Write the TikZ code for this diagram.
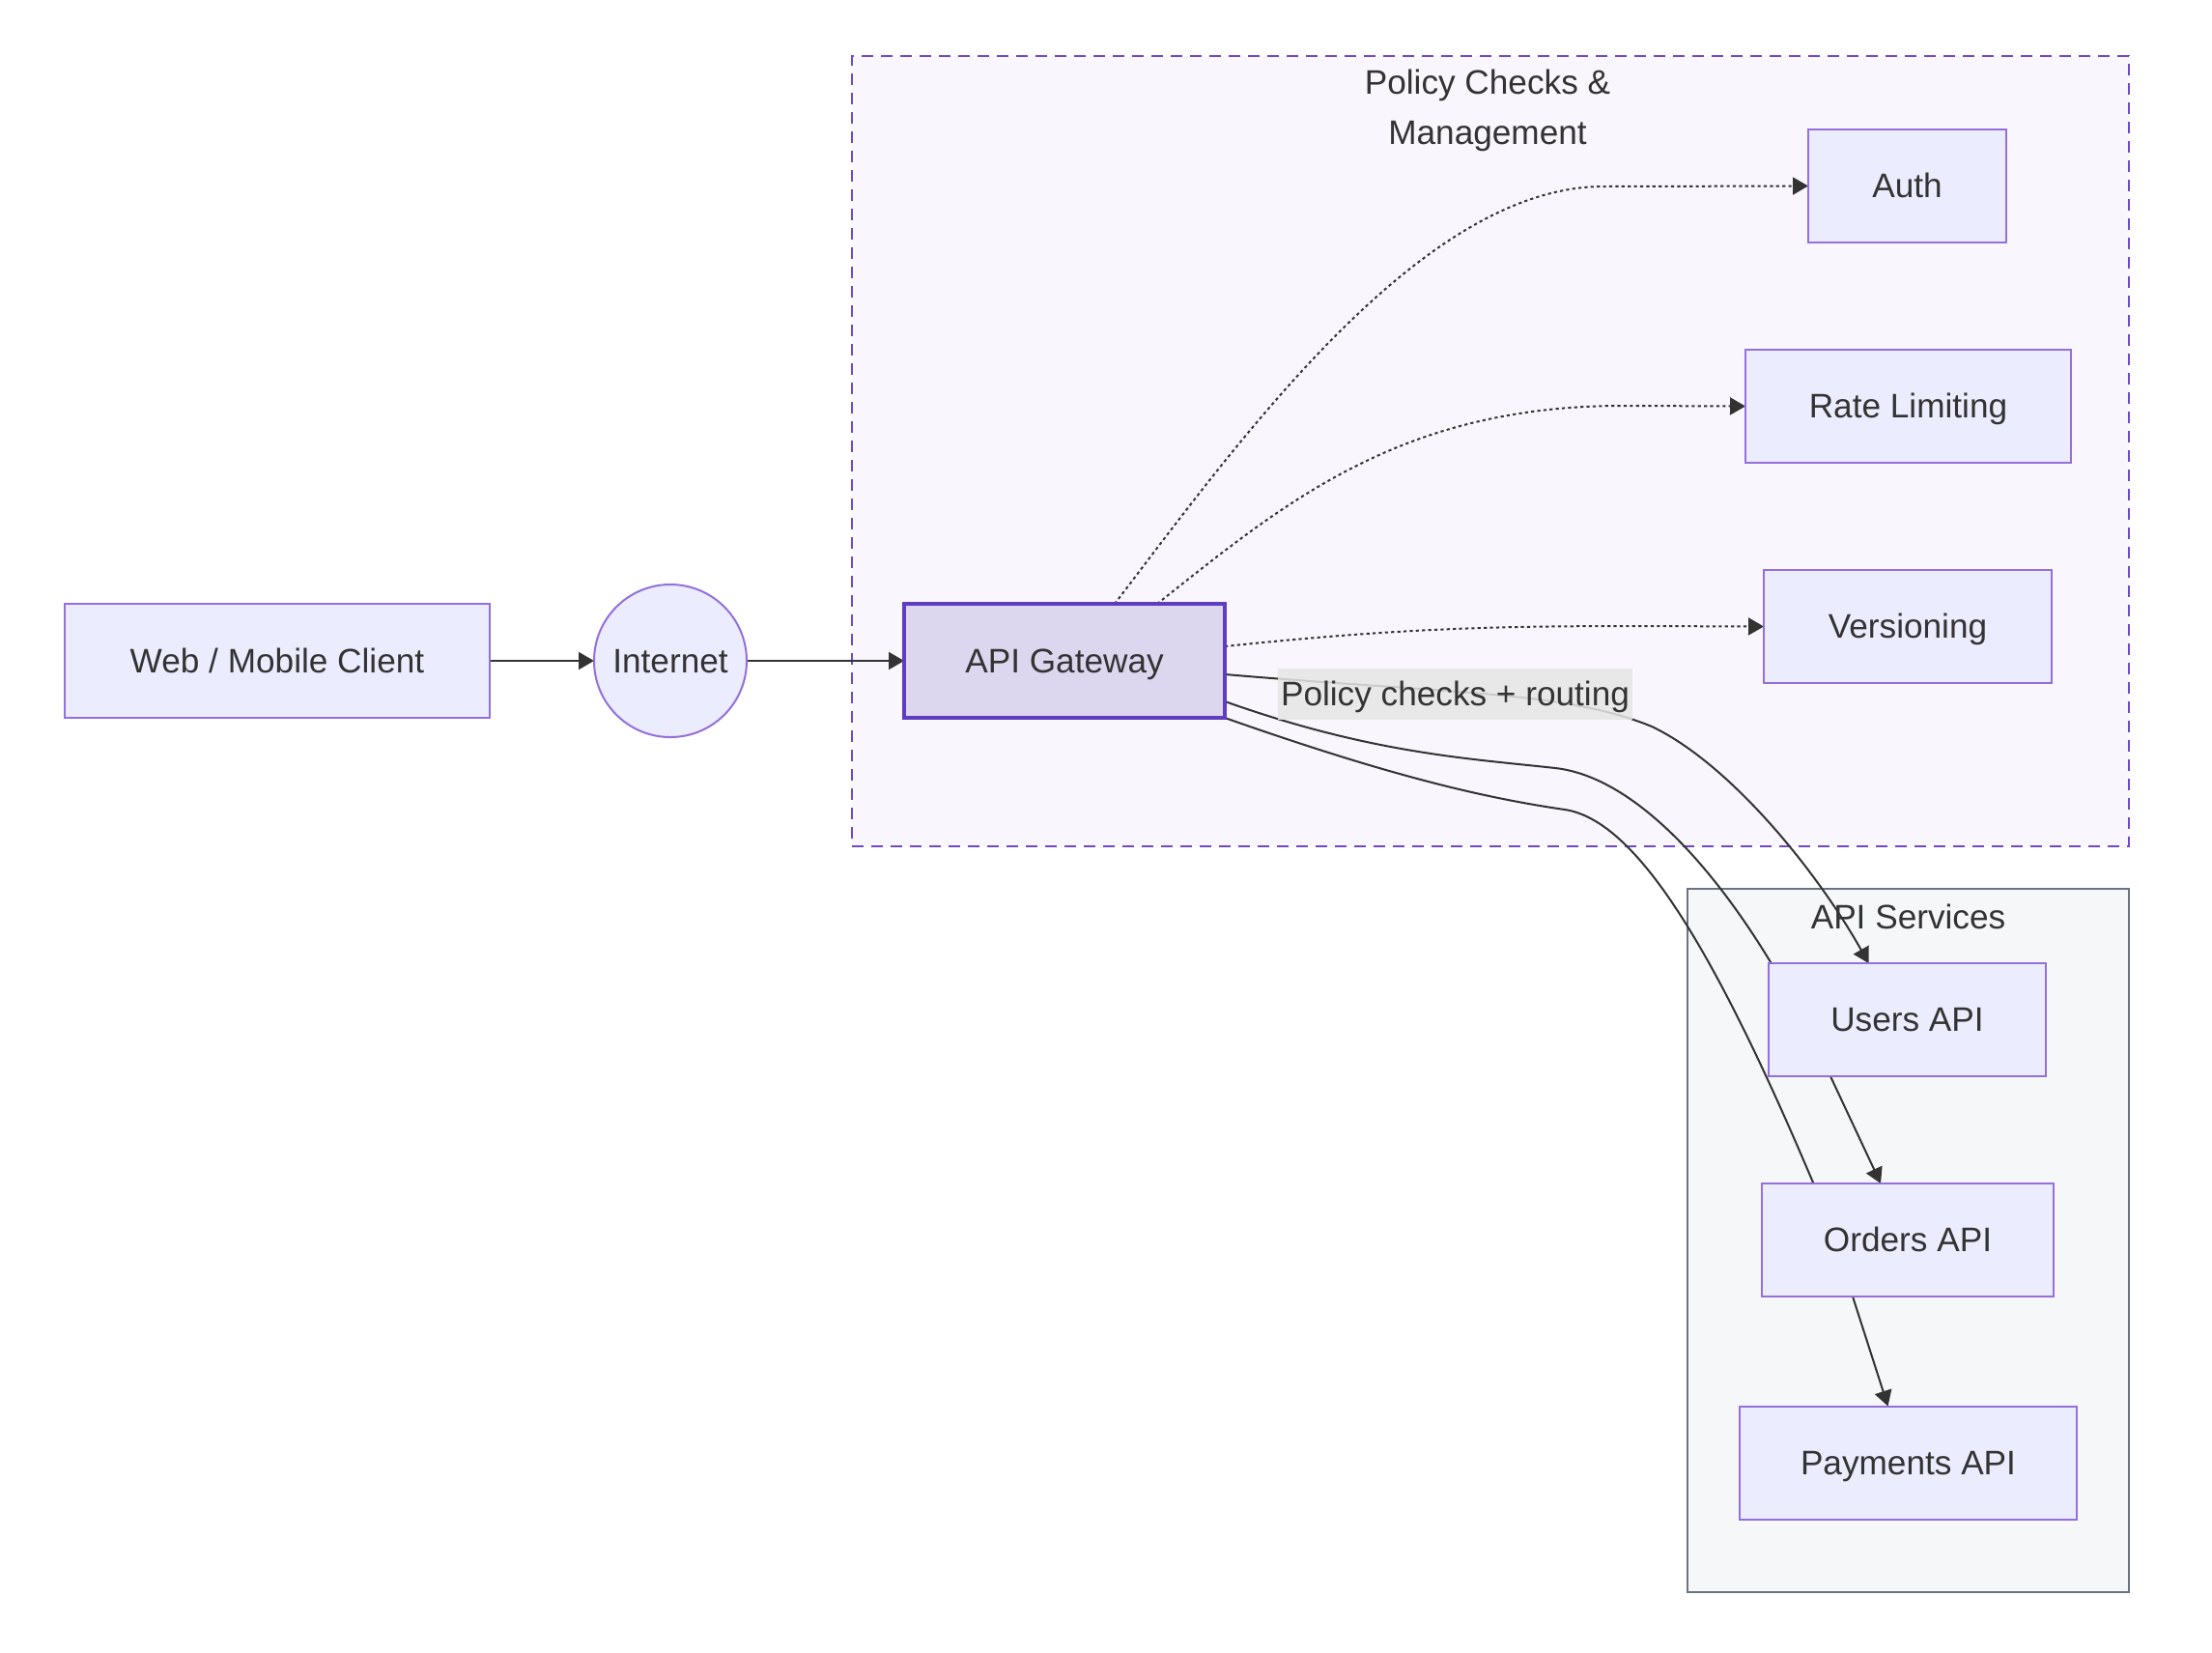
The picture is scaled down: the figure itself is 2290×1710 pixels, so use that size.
\documentclass[tikz,border=0pt]{standalone}
\usepackage{fontspec}
\setmainfont{Liberation Sans}
\usetikzlibrary{arrows.meta,calc}
\pgfdeclarelayer{bg}
\pgfdeclarelayer{edges}
\pgfsetlayers{bg,edges,main}
\definecolor{nodefill}{HTML}{ECECFF}
\definecolor{nodeline}{HTML}{9370DB}
\definecolor{gwfill}{HTML}{DDD6EF}
\definecolor{gwline}{HTML}{5E3DBF}
\definecolor{polfill}{HTML}{FAF6FD}
\definecolor{polline}{HTML}{7049C9}
\definecolor{svcfill}{HTML}{F6F7F9}
\definecolor{svcline}{HTML}{6B7280}
\definecolor{edgecol}{HTML}{333333}
\definecolor{lblfill}{HTML}{E6E6E6}
\definecolor{txt}{HTML}{333333}
\tikzset{
  x=0.5pt, y=-0.5pt,
  every node/.style={font=\fontsize{17.6}{26}\selectfont, text=txt},
  shapetext/.style={text height=15.9pt, text depth=3.7pt},
  box/.style={shapetext, draw=nodeline, fill=nodefill, line width=1pt, rectangle, inner sep=0pt, outer sep=0pt, minimum height=59pt},
  gwbox/.style={shapetext, draw=gwline, fill=gwfill, line width=2pt, rectangle, inner sep=0pt, outer sep=0pt, minimum height=59pt},
  roundnode/.style={shapetext, draw=nodeline, fill=nodefill, line width=1pt, circle, inner sep=0pt, outer sep=0pt, minimum size=79pt},
  polcluster/.style={draw=polline, fill=polfill, line width=1pt, dash pattern=on 6pt off 4pt, rectangle, inner sep=0pt, outer sep=0pt},
  svccluster/.style={draw=svcline, fill=svcfill, line width=1pt, rectangle, inner sep=0pt, outer sep=0pt},
  link/.style={draw=edgecol, line width=1pt, -{Triangle[length=8pt,width=9pt]}},
  dotlink/.style={link, dash pattern=on 1.6pt off 1.6pt},
  lbl/.style={shapetext, fill=lblfill, fill opacity=0.85, text opacity=1, inner sep=0pt, minimum width=183.5pt, minimum height=26.5pt}
}
\begin{document}
\begin{tikzpicture}
\useasboundingbox (0,0) rectangle (2290,1710);

\begin{pgfonlayer}{bg}
\fill[white] (0,0) rectangle (2290,1710);
\node[polcluster, minimum width=661pt, minimum height=409pt] (policy) at (1543,467) {};
\node[svccluster, minimum width=228.5pt, minimum height=364pt] (services) at (1975.5,1284) {};
\end{pgfonlayer}
\node[align=center, inner sep=0pt] (poltitle) at (1540,114) {Policy Checks \&\\Management};
\node[inner sep=0pt] (svctitle) at (1975.5,949) {API Services};

\node[box, minimum width=220pt] (client) at (287,684) {Web / Mobile Client};
\node[roundnode] (internet) at (694,684) {Internet};
\node[gwbox, minimum width=166pt] (gw) at (1102,684) {API Gateway};
\node[box, minimum width=102.5pt, minimum height=58.5pt] (auth) at (1974.5,192.5) {Auth};
\node[box, minimum width=168.5pt, minimum height=58.5pt] (rate) at (1975.5,420.5) {Rate Limiting};
\node[box, minimum width=149pt, minimum height=58.5pt] (vers) at (1975,648.5) {Versioning};
\node[box, minimum width=143.5pt, minimum height=58.5pt] (users) at (1974.5,1055.5) {Users API};
\node[box, minimum width=151pt, minimum height=58.5pt] (orders) at (1975,1283.5) {Orders API};
\node[box, minimum width=174.5pt, minimum height=58.5pt] (payments) at (1975.5,1514) {Payments API};

\begin{pgfonlayer}{edges}
\draw[link] (client.east) -- (internet.west);
\draw[link] (internet.east) -- (gw.west);
\draw[dotlink] ($(gw.north)+(52,0)$) .. controls (1280,460) and (1470,193) .. (1660,193) -- (auth.west);
\draw[dotlink] ($(gw.north)+(96,0)$) .. controls (1330,520) and (1450,420) .. (1680,420) -- (rate.west);
\draw[dotlink] ($(gw.east)+(0,-15)$) .. controls (1450,650) and (1550,648) .. (1700,648) -- (vers.west);
\draw[link] ($(gw.east)+(0,14)$) .. controls (1500,718) and (1620,715) .. (1710,752) .. controls (1790,790) and (1880,900) .. ($(users.north)+(-40,0)$);
\draw[link] ($(gw.east)+(0,42)$) .. controls (1420,780) and (1520,785) .. (1610,795) .. controls (1700,805) and (1800,920) .. (1879,1080) -- ($(orders.north)+(-28,0)$);
\draw[link] (gw.south east) .. controls (1430,800) and (1530,825) .. (1620,838) .. controls (1700,850) and (1786,1005) .. (1890,1255) -- ($(payments.north)+(-21,0)$);
\end{pgfonlayer}
\node[lbl] (edgelabel) at (1506.5,718.5) {Policy checks + routing};
\end{tikzpicture}
\end{document}
